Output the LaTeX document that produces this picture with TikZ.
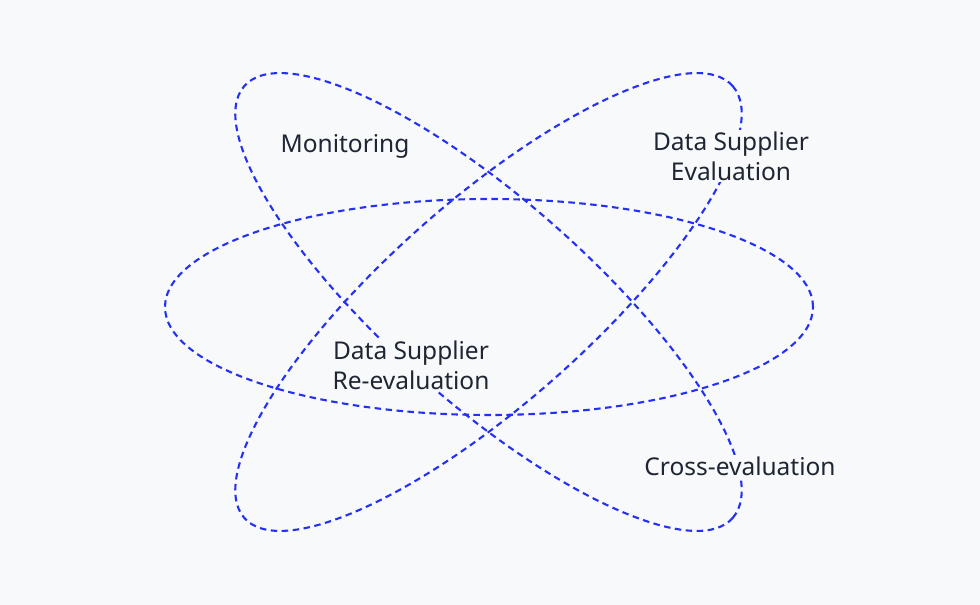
\documentclass[tikz,border=0pt]{standalone}
\usepackage{fontspec}
\setmainfont{Noto Sans}
\definecolor{bgc}{HTML}{F8F9FA}
\definecolor{linec}{HTML}{2530F5}
\definecolor{txtc}{HTML}{1F2633}
\tikzset{
  orbit/.style={draw=linec, line width=2.1pt, dash pattern=on 6.5pt off 4.5pt},
  lbl/.style={text=txtc, fill=bgc, align=center, inner sep=2pt,
    font=\fontsize{24.5}{30}\selectfont}
}
\begin{document}
\begin{tikzpicture}[x=1pt,y=1pt]
\fill[bgc] (0,0) rectangle (980,605);
\useasboundingbox (0,0) rectangle (980,605);
\coordinate (c0) at (489,298);
\coordinate (c1) at (488.5,303);
\draw[orbit] (c0) ellipse [x radius=324, y radius=108];
\draw[orbit, rotate around={-41.5:(c1)}] (c1) ellipse [x radius=326, y radius=101];
\draw[orbit, rotate around={41.5:(c1)}] (c1) ellipse [x radius=326, y radius=101];
\node[lbl] (mon) at (345,459) {Monitoring};
\node[lbl] (dse) at (731,449) {Data Supplier\\Evaluation};
\node[lbl] (dsr) at (411,240) {Data Supplier\\Re-evaluation};
\node[lbl] (cross) at (740,139) {Cross-evaluation};
\end{tikzpicture}
\end{document}
